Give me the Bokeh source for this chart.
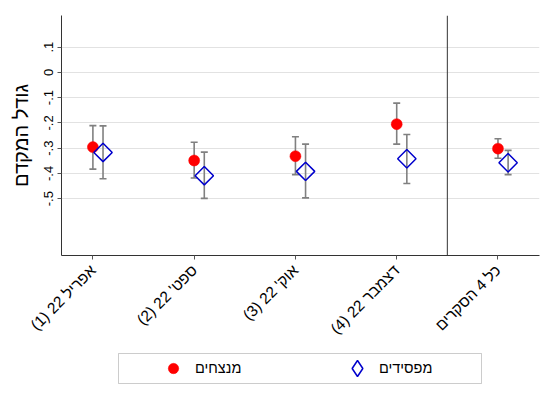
import math
from bokeh.plotting import figure
from bokeh.layouts import column
from bokeh.models import (ColumnDataSource, Whisker, TeeHead, Span, FixedTicker,
                          Legend, LegendItem, Range1d, BoxAnnotation)
from bokeh.transform import dodge
from bokeh.embed import file_html
from bokeh.resources import INLINE

# ---- data ----
categories = ["אפריל 22 (1)", "ספט' 22 (2)", "אוק' 22 (3)", "דצמבר 22 (4)", "כל 4 הסקרים"]
series_names = ["מנצחים", "מפסידים"]

winners_est = [-0.296, -0.349, -0.332, -0.205, -0.302]
winners_lo = [-0.383, -0.418, -0.405, -0.284, -0.340]
winners_hi = [-0.211, -0.277, -0.255, -0.122, -0.263]

losers_est = [-0.317, -0.409, -0.392, -0.342, -0.358]
losers_lo = [-0.421, -0.499, -0.497, -0.440, -0.405]
losers_hi = [-0.212, -0.316, -0.284, -0.246, -0.309]

y_ticks = [-0.5, -0.4, -0.3, -0.2, -0.1, 0.0, 0.1]
y_tick_labels = ["-.5", "-.4", "-.3", "-.2", "-.1", "0", ".1"]
y_title = "גודל המקדם"

x_pos = list(range(1, len(categories) + 1))

FONT = "Liberation Sans"
RED = "#ff0000"
BLUE = "#0000cc"
CI = "#808080"
AXIS = "#333333"

src = ColumnDataSource(dict(x=x_pos,
                            w_est=winners_est, w_lo=winners_lo, w_hi=winners_hi,
                            l_est=losers_est, l_lo=losers_lo, l_hi=losers_hi))

p = figure(frame_width=478, frame_height=240,
           x_range=Range1d(0.69, 5.41), y_range=Range1d(-0.725, 0.225),
           output_backend="svg", toolbar_location=None,
           min_border_left=61, min_border_right=15, min_border_top=15, min_border_bottom=0)
p.outline_line_color = None
p.background_fill_color = "white"
p.border_fill_color = "white"

# grid
p.xgrid.visible = False
p.ygrid.grid_line_color = "#e2e2e2"
p.ygrid.grid_line_width = 1

# y axis
p.yaxis.ticker = FixedTicker(ticks=y_ticks)
p.yaxis.major_label_overrides = dict(zip(y_ticks, y_tick_labels))
p.yaxis.major_label_orientation = "vertical"
p.yaxis.axis_label = y_title
p.yaxis.axis_label_text_font = FONT
p.yaxis.axis_label_text_font_size = "20px"
p.yaxis.axis_label_text_font_style = "normal"
p.yaxis.axis_label_text_color = "black"
p.yaxis.axis_label_standoff = 10

# x axis
p.xaxis.ticker = FixedTicker(ticks=x_pos)
p.xaxis.major_label_overrides = {x: c + "\u200f" for x, c in zip(x_pos, categories)}
p.xaxis.major_label_orientation = math.pi / 4

for ax in (p.xaxis[0], p.yaxis[0]):
    ax.axis_line_color = AXIS
    ax.axis_line_width = 1
    ax.major_tick_line_color = "#555555"
    ax.major_tick_out = 4
    ax.major_tick_in = 0
    ax.minor_tick_line_color = None
    ax.major_label_text_font = FONT
    ax.major_label_text_color = "black"
p.yaxis.major_label_standoff = 4
p.xaxis.major_label_standoff = 8
p.yaxis.major_label_text_font_size = "13px"
p.xaxis.major_label_text_font_size = "15.5px"

# separator between survey rounds and pooled estimate
p.add_layout(Span(location=len(categories) - 0.5, dimension="height",
                  line_color=AXIS, line_width=1))

# confidence intervals
def ci(base, upper, lower):
    return Whisker(base=base, upper=upper, lower=lower, source=src, dimension="height",
                   line_color=CI, line_width=1.6,
                   upper_head=TeeHead(size=7, line_color=CI, line_width=1.6),
                   lower_head=TeeHead(size=7, line_color=CI, line_width=1.6))

p.add_layout(ci("x", "w_hi", "w_lo"))
p.add_layout(ci(dodge("x", 0.1), "l_hi", "l_lo"))

marker_w = dict(marker="circle", size=11, fill_color=RED, line_color=RED, line_width=0.5)
marker_l = dict(marker="square", angle=math.pi / 4, size=13, fill_color=None,
                line_color=BLUE, line_width=1.5)

p.scatter("x", "w_est", source=src, **marker_w)
p.scatter(x=dodge("x", 0.1), y="l_est", source=src, **marker_l)

# ---- legend strip below the chart ----
q = figure(frame_width=478, frame_height=32, x_range=Range1d(0.69, 5.41), y_range=Range1d(10, 11),
           output_backend="svg", toolbar_location=None,
           x_axis_location=None, y_axis_location=None,
           min_border_left=61, min_border_right=15, min_border_top=6, min_border_bottom=2)
q.grid.visible = False
q.outline_line_color = None
q.background_fill_color = "white"
q.border_fill_color = "white"

# legend box
q.add_layout(BoxAnnotation(left=57, right=420, bottom=1, top=31,
                           left_units="screen", right_units="screen",
                           bottom_units="screen", top_units="screen",
                           fill_color=None, fill_alpha=0, line_color="#555555", line_width=1,
                           level="underlay"))

# same series, drawn outside this strip's visible range: only their legend swatches show
lw = q.scatter("x", "w_est", source=src, **marker_w)
ll = q.scatter("x", "l_est", source=src, marker="diamond", size=13, fill_color=None,
               line_color=BLUE, line_width=1.5)

common = dict(orientation="horizontal", padding=0, margin=0, spacing=0,
              label_text_font=FONT, label_text_font_size="14.5px", label_text_color="black",
              border_line_color=None, background_fill_alpha=0)
q.add_layout(Legend(items=[LegendItem(label=series_names[0], renderers=[lw])],
                    location=(99, 3), glyph_width=26, glyph_height=26, label_standoff=9,
                    **common))
q.add_layout(Legend(items=[LegendItem(label=series_names[1], renderers=[ll])],
                    location=(276, -4), glyph_width=40, glyph_height=40, label_standoff=2,
                    **common))

layout = column(p, q, spacing=0)
open("out.html", "w").write(file_html(layout, INLINE))
